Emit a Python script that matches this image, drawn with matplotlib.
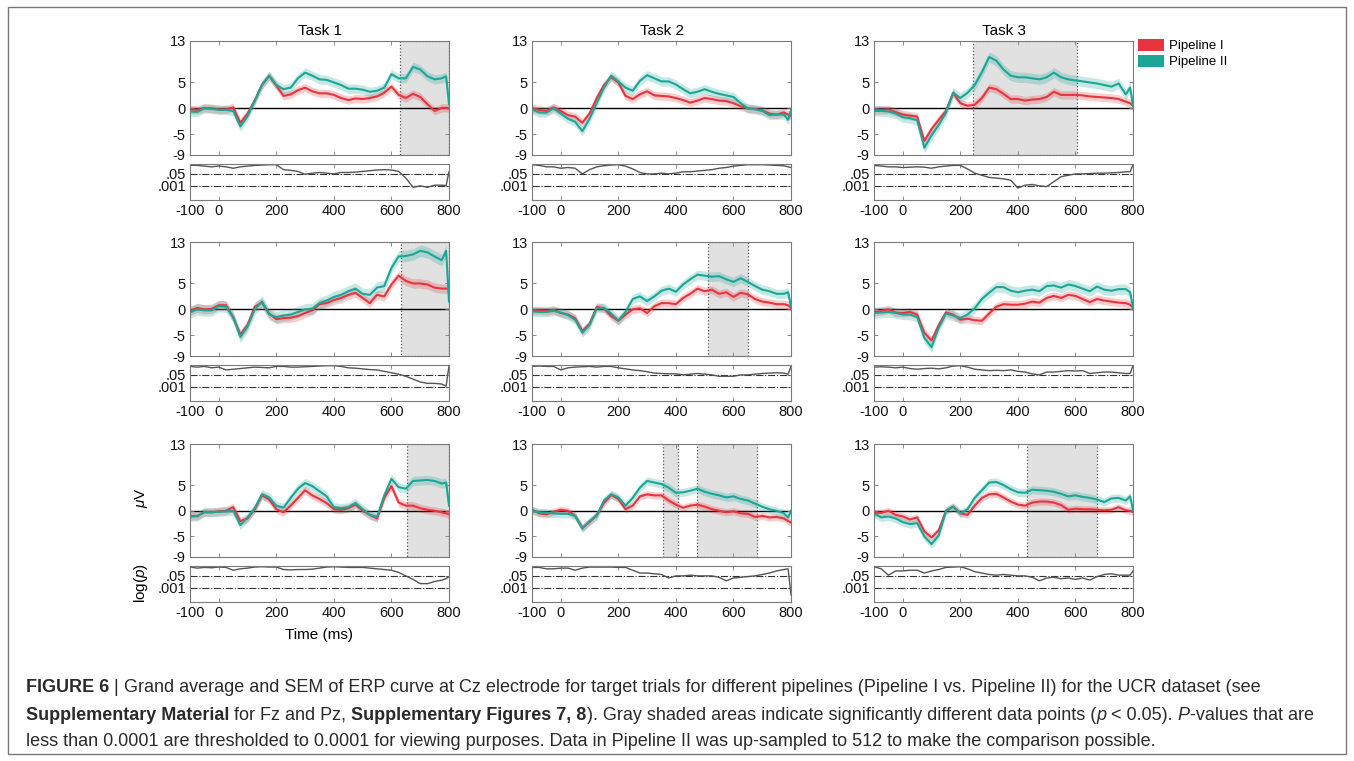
import matplotlib.pyplot as plt
import numpy as np
from matplotlib.patches import Patch, Rectangle

plt.rcParams['font.family'] = ['Liberation Sans', 'DejaVu Sans']
plt.rcParams['mathtext.fontset'] = 'custom'
plt.rcParams['mathtext.rm'] = 'Liberation Sans'
plt.rcParams['mathtext.it'] = 'Liberation Sans:italic'
plt.rcParams['axes.unicode_minus'] = False

# time axis (ms)
TIME = [-100, -75, -50, -25, 0, 25, 50, 75, 100, 125, 150, 175, 200, 225, 250, 275, 300, 325,
        350, 375, 400, 425, 450, 475, 500, 525, 550, 575, 600, 625, 650, 675, 700, 725, 750, 775, 790, 800]

TASKS = ['Task 1', 'Task 2', 'Task 3']

# row 1 (a), row 2 (b), row 3 (c); columns = tasks.  *_I = Pipeline I, *_II = Pipeline II, *_p = log10(p)
a1_I = [-0.2, -0.3, 0.1, 0, -0.2, -0.2, 0.2, -2.8, -1.0, 1.5, 4.5, 6.3, 4.4, 2.4, 2.7, 3.5, 4.0, 3.3,
        2.9, 2.9, 2.6, 2.0, 1.6, 1.9, 1.8, 2.0, 2.3, 3.0, 4.2, 2.6, 2.0, 2.8, 2.2, 0.8, -0.5, 0.1, 0.1, 0.0]
a1_II = [-0.6, -0.7, 0, -0.1, -0.3, -0.3, -0.5, -3.5, -1.5, 1.5, 4.5, 6.3, 4.5, 3.7, 4.0, 5.8, 6.9, 6.3,
         5.6, 5.5, 5.0, 4.5, 3.8, 3.8, 3.6, 3.2, 3.4, 4.0, 6.6, 5.8, 5.8, 8.0, 7.5, 6.2, 5.6, 5.8, 6.2, 0.8]
a1_p = [-0.07, -0.1, -0.2, -0.3, -0.2, -0.3, -0.5, -0.3, -0.2, -0.1, -0.05, 0, 0, -0.7, -0.8, -0.95, -1.35, -1.2,
        -1.1, -1.2, -1.3, -1.1, -1.1, -1.05, -0.95, -0.85, -0.75, -0.7, -0.75, -0.95, -1.9, -3.2, -3.0, -3.2, -2.9, -2.9, -2.95, -1.0]

a2_I = [0, -0.3, -0.5, 0.2, -0.5, -1.3, -1.6, -2.8, -1.0, 2.0, 4.5, 6.0, 5.0, 2.4, 1.8, 2.7, 3.3, 2.5,
        2.4, 2.3, 2.0, 1.6, 1.1, 1.5, 2.0, 1.8, 1.5, 1.4, 1.0, 0.4, 0, -0.1, -0.4, -1.0, -1.2, -0.8, -1.2, -1.5]
a2_II = [-0.2, -0.8, -0.8, 0, -1.0, -2.0, -2.6, -4.4, -2.0, 1.0, 4.0, 6.3, 5.2, 4.0, 3.4, 5.3, 6.4, 5.8,
         5.2, 5.2, 4.6, 3.7, 2.9, 3.2, 3.7, 3.2, 2.8, 2.5, 2.2, 1.0, 0, -0.2, -0.5, -1.3, -1.2, -1.2, -2.2, -0.3]
a2_p = [0, -0.1, -0.3, -0.3, -0.5, -0.4, -0.5, -1.3, -0.7, -0.3, -0.15, -0.05, 0, -0.2, -0.6, -1.1, -1.3, -1.3,
        -1.2, -1.3, -1.2, -1.0, -1.0, -0.9, -0.8, -0.7, -0.5, -0.4, -0.2, -0.1, 0, 0, 0, -0.05, -0.1, -0.15, -0.3, -0.4]

a3_I = [-0.3, -0.3, -0.2, -0.7, -1.2, -1.4, -1.6, -6.3, -4.0, -2.2, -0.5, 3.0, 1.0, 0.5, 0.7, 2.0, 4.0, 3.7,
        2.8, 1.8, 1.8, 1.5, 1.7, 1.8, 2.2, 3.2, 2.6, 2.6, 2.6, 2.5, 2.3, 2.2, 2.1, 2.0, 1.8, 1.3, 1.0, 0.5]
a3_II = [-0.5, -0.5, -0.6, -1.0, -1.7, -1.9, -2.3, -7.6, -5.2, -3.2, -0.8, 3.0, 2.0, 3.0, 4.5, 7.0, 9.9, 9.2,
         7.5, 6.3, 6.0, 6.0, 5.8, 5.6, 6.0, 6.9, 6.0, 5.6, 5.4, 5.2, 5.0, 4.8, 4.5, 4.2, 4.8, 2.7, 4.0, 0.5]
a3_p = [-0.1, -0.2, -0.3, -0.3, -0.4, -0.35, -0.3, -0.35, -0.5, -0.3, -0.2, -0.1, -0.1, -0.6, -1.2, -1.5, -1.8, -1.9,
        -2.0, -2.2, -3.3, -2.9, -2.8, -3.0, -3.1, -2.4, -1.7, -1.5, -1.3, -1.3, -1.25, -1.2, -1.2, -1.15, -1.1, -1.0, -1.0, 0]

b1_I = [-0.3, 0.3, 0, 0.1, 0.8, 0.8, -1.5, -4.9, -3.0, 0.5, 1.3, -0.8, -1.9, -1.7, -1.6, -1.3, -0.7, -0.2,
        1.0, 1.2, 1.8, 2.2, 2.8, 3.2, 2.2, 1.2, 2.8, 2.5, 4.8, 6.5, 5.5, 5.0, 5.0, 4.8, 4.2, 4.0, 4.0, 4.0]
b1_II = [-0.6, 0, -0.2, -0.2, 0.6, 0.5, -1.5, -5.3, -3.3, 0, 1.5, -1.0, -1.5, -1.2, -1.0, -0.5, 0, 0.1,
         1.2, 1.7, 2.4, 2.8, 3.5, 4.0, 3.0, 2.8, 4.2, 4.5, 8.0, 10.2, 10.3, 10.6, 11.3, 11.0, 10.2, 9.5, 11.3, 1.5]
b1_p = [-0.1, -0.2, -0.1, -0.3, -0.2, -0.6, -0.5, -0.4, -0.3, -0.2, -0.25, -0.3, -0.1, -0.1, -0.2, -0.2, -0.15, -0.1,
        -0.05, 0, 0, -0.1, -0.3, -0.35, -0.45, -0.55, -0.6, -0.8, -1.0, -1.2, -1.5, -1.9, -2.3, -2.5, -2.5, -2.6, -2.9, 0]

b2_I = [-0.3, -0.2, -0.3, -0.1, -0.7, -1.0, -1.7, -4.2, -2.8, 0.5, 0.2, -1.3, -2.2, -1.0, 0, 0.2, -0.7, 0.6,
        1.2, 1.2, 1.0, 2.2, 3.0, 4.0, 3.5, 3.8, 3.0, 3.3, 2.4, 3.2, 2.9, 2.0, 1.5, 1.3, 1.0, 1.0, 0.8, 0.3]
b2_II = [-0.4, -0.5, -0.5, -0.3, -0.6, -1.1, -2.0, -4.5, -3.0, 0.2, 0.3, -0.8, -2.2, -0.5, 2.0, 2.5, 1.6, 2.5,
         3.6, 4.0, 3.4, 4.8, 5.8, 6.7, 6.5, 6.3, 6.4, 5.8, 5.3, 6.0, 5.3, 4.5, 3.8, 3.5, 3.0, 3.0, 3.3, 0.5]
b2_p = [-0.1, -0.05, -0.1, -0.1, -0.6, -0.3, -0.2, -0.15, -0.1, -0.2, -0.1, -0.1, -0.3, -0.45, -0.6, -0.7, -0.85, -1.05,
        -1.1, -1.15, -1.15, -1.3, -1.2, -1.1, -1.2, -1.3, -1.5, -1.5, -1.5, -1.3, -1.3, -1.2, -1.1, -1.05, -1.0, -1.05, -1.2, -0.1]

b3_I = [-0.5, -0.3, 0, -0.6, -0.7, -0.5, -1.0, -4.5, -6.0, -3.0, -0.6, -1.0, -2.0, -1.8, -2.1, -2.2, -0.8, 0.5,
        1.0, 0.9, 0.9, 1.1, 1.5, 1.3, 2.2, 2.6, 2.2, 2.8, 2.6, 2.0, 1.4, 2.0, 1.7, 1.5, 1.3, 1.2, 0.9, 0.3]
b3_II = [-0.7, -0.6, -0.5, -0.7, -1.0, -1.0, -1.5, -5.5, -7.3, -3.5, -0.8, -1.2, -1.7, -1.0, 0.2, 2.0, 3.2, 4.3,
         4.3, 3.6, 3.3, 3.6, 3.8, 3.5, 4.5, 4.6, 4.2, 4.8, 4.5, 4.0, 3.5, 4.4, 3.8, 3.6, 3.9, 3.9, 3.3, 0.3]
b3_p = [-0.2, -0.15, -0.2, -0.3, -0.2, -0.4, -0.5, -0.4, -0.35, -0.45, -0.3, -0.05, 0, -0.2, -0.5, -0.6, -0.7, -0.65,
        -0.7, -0.6, -0.8, -0.9, -1.15, -1.3, -0.9, -0.9, -0.8, -0.7, -0.75, -0.7, -1.1, -1.0, -0.9, -0.9, -1.0, -1.1, -1.1, 0]

c1_I = [-1.0, -1.0, -0.3, -0.3, -0.1, 0, 0.7, -2.0, -1.5, 0.3, 3.0, 2.2, 0.3, -0.3, 1.0, 2.5, 4.0, 3.0,
        2.3, 1.5, 0.3, 0.2, 0.5, 1.2, 0, -0.8, -1.5, 2.5, 4.8, 1.6, 1.0, 1.0, 0.5, 0.2, 0, -0.3, -0.5, -0.7]
c1_II = [-1.1, -1.1, -0.2, -0.3, -0.2, -0.1, 0, -2.8, -1.3, 0.5, 3.2, 2.6, 1.0, 0.6, 2.5, 4.3, 5.4, 4.8,
         3.8, 2.8, 0.7, 0.5, 0.7, 1.5, 0.3, -0.8, -1.2, 3.0, 6.2, 4.6, 4.3, 5.8, 5.9, 6.0, 5.8, 5.3, 5.5, 1.0]
c1_p = [-0.05, -0.2, -0.1, -0.15, -0.05, -0.1, -0.5, -0.3, -0.2, -0.05, 0, -0.05, -0.05, -0.4, -0.45, -0.4, -0.4, -0.35,
        -0.2, -0.05, 0, -0.05, -0.1, -0.1, -0.1, -0.2, -0.3, -0.4, -0.5, -0.8, -1.3, -1.8, -2.4, -2.4, -2.1, -1.9, -1.7, -1.4]

c2_I = [0.2, -0.5, -0.7, -0.2, 0.2, 0, -1.0, -3.3, -2.2, -0.8, 1.5, 3.1, 2.3, 0.3, 1.0, 2.8, 3.2, 3.0,
        3.0, 2.0, 1.2, 0.6, 1.0, 1.2, 0.8, 0.3, 0, -0.3, -0.1, -0.5, -0.6, -1.2, -1.0, -1.3, -1.2, -1.5, -2.0, -2.3]
c2_II = [0, -0.3, -0.4, -0.5, -0.6, -0.6, -1.0, -3.5, -2.0, -1.0, 2.0, 3.2, 2.6, 1.0, 2.5, 4.5, 5.8, 5.5,
         5.2, 4.5, 3.5, 3.6, 3.9, 4.3, 3.7, 3.3, 3.0, 2.6, 2.8, 2.3, 2.0, 1.4, 0.8, 0.3, 0, -0.5, -1.3, 0]
c2_p = [-0.1, -0.1, -0.3, -0.3, -0.2, -0.2, -0.5, -0.2, -0.05, -0.05, -0.05, -0.05, -0.1, -0.1, -0.5, -0.9, -0.9, -1.0,
        -1.1, -1.6, -1.3, -1.3, -1.2, -1.3, -1.3, -1.3, -1.5, -2.0, -1.6, -1.5, -1.4, -1.3, -1.1, -0.9, -0.6, -0.4, -0.3, -4.0]

c3_I = [-0.4, -0.4, 0, -0.8, -1.1, -1.7, -1.3, -4.0, -5.2, -3.8, 0, 0.8, -0.5, -0.8, 1.0, 2.5, 3.2, 3.3,
        2.6, 1.8, 1.2, 1.0, 1.6, 1.8, 1.8, 1.6, 1.1, 0.2, 0.4, 0.3, 0.3, 0.2, 0.1, 0.2, 0.7, 0.1, 0, -0.2]
c3_II = [-0.5, -1.3, -1.1, -1.5, -2.2, -2.6, -2.4, -5.0, -6.5, -4.8, 0, 0.8, -0.5, 0.3, 2.5, 4.0, 5.5, 5.6,
         5.0, 4.2, 3.6, 3.5, 4.1, 4.0, 3.9, 3.7, 3.3, 2.8, 3.0, 2.7, 2.5, 2.2, 1.7, 2.4, 2.5, 2.0, 2.8, 0.1]
c3_p = [0, -0.3, -1.2, -0.6, -0.6, -0.5, -0.5, -0.9, -0.6, -0.4, -0.1, -0.05, 0, -0.3, -0.7, -0.9, -1.1, -1.2,
        -1.1, -1.2, -1.3, -1.3, -1.5, -2.0, -1.6, -1.5, -1.7, -1.6, -1.8, -1.6, -1.9, -1.4, -1.1, -1.0, -1.2, -1.2, -1.2, -0.6]

# significant windows (ms)
sig_a1, sig_a2, sig_a3 = [(628, 800)], [], [(245, 606)]
sig_b1, sig_b2, sig_b3 = [(633, 800)], [(513, 649)], []
sig_c1, sig_c2, sig_c3 = [(655, 800)], [(354, 406), (472, 682)], [(432, 675)]

# SEM half-widths (Pipeline I, Pipeline II)
sem_a = [(0.8, 0.9), (0.8, 0.9), (0.8, 1.0)]
sem_b = [(0.9, 1.1), (0.8, 0.9), (0.8, 1.0)]
sem_c = [(0.8, 0.9), (0.7, 0.8), (0.7, 0.8)]

RED = '#e8343e'
TEAL = '#1ba697'
AXC = '#7a7a7a'

rows = [
    [(a1_I, a1_II, a1_p, sig_a1), (a2_I, a2_II, a2_p, sig_a2), (a3_I, a3_II, a3_p, sig_a3)],
    [(b1_I, b1_II, b1_p, sig_b1), (b2_I, b2_II, b2_p, sig_b2), (b3_I, b3_II, b3_p, sig_b3)],
    [(c1_I, c1_II, c1_p, sig_c1), (c2_I, c2_II, c2_p, sig_c2), (c3_I, c3_II, c3_p, sig_c3)],
]
sems = [sem_a, sem_b, sem_c]

W, H = 1354, 761
fig = plt.figure(figsize=(W / 100, H / 100), dpi=100)


def box(x0, x1, y0, y1):
    return [x0 / W, 1 - y1 / H, (x1 - x0) / W, (y1 - y0) / H]


def style(ax):
    for s in ax.spines.values():
        s.set_color(AXC)
        s.set_linewidth(0.8)
    ax.tick_params(direction='in', length=3, width=0.6, color=AXC, top=True, right=True,
                   labelsize=10.5, pad=3, labelcolor='#111')


cols = [(190, 449), (532, 791), (874, 1133)]
erp_y = [(41, 155), (242, 356), (444, 557)]
p_y = [(164, 200), (365, 401), (566, 602)]
t = np.array(TIME)

for r in range(3):
    for c in range(3):
        v1, v2, lp, sig = rows[r][c]
        s1, s2 = sems[r][c]
        v1, v2 = np.array(v1), np.array(v2)

        ax = fig.add_axes(box(cols[c][0], cols[c][1], *erp_y[r]))
        for lo, hi in sig:
            ax.axvspan(lo, hi, facecolor='#e1e1e1', edgecolor='#555555', ls=':', lw=0.9, zorder=0)
        ax.axhline(0, color='black', lw=1.0, zorder=1)
        ax.fill_between(t, v1 - s1, v1 + s1, color=RED, alpha=0.25, lw=0, zorder=2)
        ax.fill_between(t, v2 - s2, v2 + s2, color=TEAL, alpha=0.25, lw=0, zorder=2)
        ax.plot(t, v1, color=RED, lw=1.5, zorder=3)
        ax.plot(t, v2, color=TEAL, lw=1.5, zorder=3)
        ax.set_xlim(-100, 800)
        ax.set_ylim(-9, 13)
        ax.set_yticks([-9, -5, 0, 5, 13])
        ax.set_xticks([-100, 0, 200, 400, 600, 800])
        ax.set_xticklabels([])
        style(ax)
        if r == 0:
            ax.set_title(TASKS[c], fontsize=11, pad=4)

        pax = fig.add_axes(box(cols[c][0], cols[c][1], *p_y[r]))
        pax.axhline(np.log10(0.05), color='#333333', ls='-.', lw=0.8)
        pax.axhline(np.log10(0.001), color='#333333', ls='-.', lw=0.8)
        pax.plot(t, lp, color='#555555', lw=1.0)
        pax.set_xlim(-100, 800)
        pax.set_ylim(-5, 0.1)
        pax.set_yticks([np.log10(0.05), np.log10(0.001)])
        pax.set_yticklabels(['.05', '.001'])
        pax.set_xticks([-100, 0, 200, 400, 600, 800])
        style(pax)

fig.text(141 / W, 1 - 498 / H, r'$\mu$V', rotation=90, ha='center', va='center', fontsize=11)
fig.text(141 / W, 1 - 583 / H, r'log($p$)', rotation=90, ha='center', va='center', fontsize=11)
fig.text(319 / W, 1 - 635 / H, 'Time (ms)', ha='center', va='center', fontsize=11)

fig.legend(handles=[Patch(facecolor=RED, edgecolor='none', label='Pipeline I'),
                    Patch(facecolor=TEAL, edgecolor='none', label='Pipeline II')],
           loc='upper left', bbox_to_anchor=(1138 / W, 1 - 39 / H), frameon=False,
           fontsize=9.5, handlelength=2.0, handleheight=1.0, handletextpad=0.35,
           labelspacing=0.2, borderaxespad=0, borderpad=0)

# caption
renderer = fig.canvas.get_renderer()


def caption_line(y_px, runs, size=13):
    x = 26
    for txt, weight, fstyle in runs:
        tt = fig.text(x / W, 1 - y_px / H, txt, fontsize=size, fontweight=weight, fontstyle=fstyle,
                      ha='left', va='center', color='#2a2a2a')
        x += tt.get_window_extent(renderer=renderer).width


caption_line(688, [('FIGURE 6', 'bold', 'normal'), (' | ', 'normal', 'normal'),
                   ('Grand average and SEM of ERP curve at Cz electrode for target trials for different pipelines '
                    '(Pipeline I vs. Pipeline II) for the UCR dataset (see', 'normal', 'normal')])
caption_line(715, [('Supplementary Material', 'bold', 'normal'), (' for Fz and Pz, ', 'normal', 'normal'),
                   ('Supplementary Figures 7, 8', 'bold', 'normal'),
                   ('). Gray shaded areas indicate significantly different data points (', 'normal', 'normal'),
                   ('p', 'normal', 'italic'), (' < 0.05). ', 'normal', 'normal'), ('P', 'normal', 'italic'),
                   ('-values that are', 'normal', 'normal')])
caption_line(741, [('less than 0.0001 are thresholded to 0.0001 for viewing purposes. Data in Pipeline II was '
                    'up-sampled to 512 to make the comparison possible.', 'normal', 'normal')])

fig.patches.append(Rectangle((8 / W, 7 / H), 1338 / W, 747 / H, transform=fig.transFigure,
                             fill=False, edgecolor='#777777', lw=1.0))

fig.savefig('out.png', dpi=100)
